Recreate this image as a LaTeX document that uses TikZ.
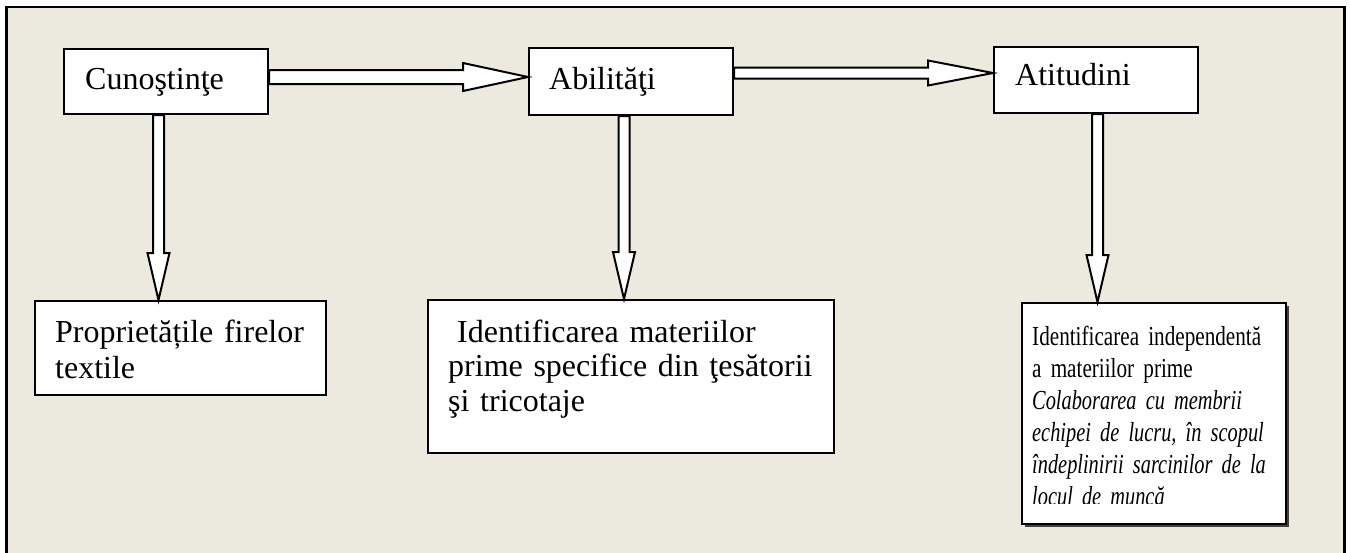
\documentclass[tikz,border=0pt]{standalone}
\usepackage{fontspec}
\setmainfont{Liberation Serif}
\newfontfamily\garfont[FakeStretch=0.77]{Liberation Serif}
\newfontfamily\garit[FakeStretch=0.74]{Liberation Serif Italic}
\usetikzlibrary{calc,shadows}
\definecolor{bg}{RGB}{236,233,223}
\newcommand{\harrow}[5]{% start, tip, shaft half, head half, head length
  \draw[barrow] ($(#1)+(0,-#3)$) -- ($(#2)+(-#5,-#3)$) -- ($(#2)+(-#5,-#4)$) -- (#2)
    -- ($(#2)+(-#5,#4)$) -- ($(#2)+(-#5,#3)$) -- ($(#1)+(0,#3)$) -- cycle;}
\newcommand{\varrow}[5]{%
  \draw[barrow] ($(#1)+(-#3,0)$) -- ($(#2)+(-#3,-#5)$) -- ($(#2)+(-#4,-#5)$) -- (#2)
    -- ($(#2)+(#4,-#5)$) -- ($(#2)+(#3,-#5)$) -- ($(#1)+(#3,0)$) -- cycle;}
\begin{document}
\begin{tikzpicture}[x=1pt,y=-1pt,
  box/.style={draw=black, line width=2pt, fill=white, inner sep=0pt, anchor=north west},
  barrow/.style={draw=black, line width=2pt, fill=white, line join=miter},
  txt/.style={inner sep=0pt, anchor=base west, font=\fontsize{32}{36}\selectfont},
  ptxt/.style={inner sep=0pt, anchor=base west, align=left}]
\useasboundingbox (0,0) rectangle (1350,552);
\fill[white] (0,0) rectangle (1350,552);
\draw[line width=2.5pt, fill=bg] (6.5,7) rectangle (1344.5,600);

% top boxes
\node[box, minimum width=204pt, minimum height=65pt] (c) at (63,48) {};
\node[box, minimum width=204pt, minimum height=67pt] (a) at (528,47) {};
\node[box, minimum width=204pt, minimum height=66pt] (t) at (993,46) {};
\node[txt] (ct) at (85,89) {Cunoştinţe};
\node[txt] (at) at (549,89) {Abilităţi};
\node[txt] (tt) at (1015,85) {Atitudini};

% bottom boxes
\node[box, minimum width=291pt, minimum height=94pt] (p) at (34,300) {};
\node[box, minimum width=406pt, minimum height=153pt] (m) at (427,299) {};
\node[box, minimum width=264pt, minimum height=221pt, drop shadow={shadow xshift=2.5pt, shadow yshift=-2.5pt, fill=black!75, opacity=1}] (r) at (1021,302) {};

\node[ptxt, text width=280pt, font=\fontsize{32}{36}\selectfont] (pt) at (55,342)
  {Proprietățile firelor\\textile};
\node[ptxt, text width=390pt, font=\fontsize{32}{34.5}\selectfont] (mt) at (448,342)
  {\hspace*{9pt}Identificarea materiilor\\prime specifice din ţesătorii\\şi tricotaje};
\begin{scope}
  \clip (1022,303) rectangle (1284,503);
  \node[ptxt, text width=260pt, font=\garfont\fontsize{27.5}{32}\selectfont] (rt) at (1032,345)
    {Identificarea independentă\\a materiilor prime\\{\garit Colaborarea cu membrii}\\{\garit echipei de lucru, în scopul}\\{\garit îndeplinirii sarcinilor de la}\\{\garit locul de muncă}};
\end{scope}

% horizontal arrows
\coordinate (h1) at ($(a.west)+(0,-4.5)$);
\coordinate (h2) at ($(t.west)+(0,-7)$);
\harrow{c.east |- h1}{h1}{7}{14}{65}
\harrow{a.east |- h2}{h2}{5.5}{12.5}{65}

% vertical arrows
\coordinate (v1) at ($(c.south)+(-7.5,0)$);
\coordinate (v2) at ($(a.south)+(-7,0)$);
\coordinate (v3) at ($(t.south)+(1.5,0)$);
\varrow{v1}{v1 |- p.north}{5.5}{11}{47}
\varrow{v2}{v2 |- m.north}{5.5}{11}{47}
\varrow{v3}{v3 |- r.north}{5.5}{11}{47}
\end{tikzpicture}
\end{document}
